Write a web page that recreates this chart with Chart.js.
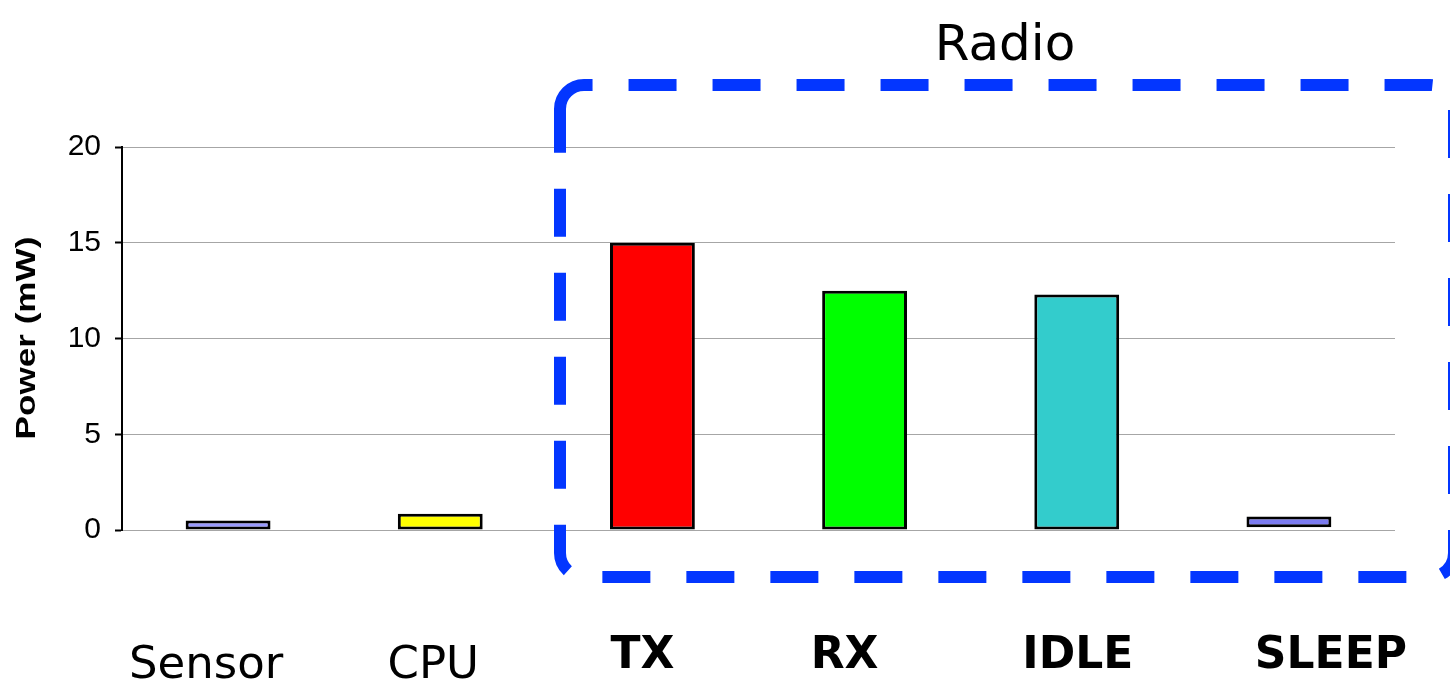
<!DOCTYPE html>
<html>
<head>
<meta charset="utf-8">
<title>Power (mW)</title>
<script src="https://cdn.jsdelivr.net/npm/chart.js@4/dist/chart.umd.min.js"></script>
<style>
  html, body { margin: 0; padding: 0; background: #ffffff; }
  #wrap { width: 1450px; height: 681px; }
</style>
</head>
<body>
<div id="wrap"><canvas id="c" width="1450" height="681"></canvas></div>
<script>
// Component power draw, mW
const categories = ['Sensor', 'CPU', 'TX', 'RX', 'IDLE', 'SLEEP'];
const powerTop   = [0.5, 0.85, 15, 12.5, 12.3, 0.7];
const powerBase  = [0, 0, 0, 0, 0, 0.15];
const barColors  = ['#9999ff', '#ffff00', '#ff0000', '#00ff00', '#33cccc', '#7b7bf0'];
const yTicks     = [0, 5, 10, 15, 20];
const groupLabel = 'Radio';
const radioFrom  = 2; // first radio category

const barData = categories.map((c, i) => [powerBase[i], powerTop[i]]);

// Hand-placed annotations: category labels, group frame, axis title
const annotate = {
  id: 'annotate',
  afterDraw(chart) {
    const { ctx, scales: { x } } = chart;
    ctx.save();

    // dashed rounded frame around the radio states
    const L = 560, T = 85, R = 1454, B = 577, r = 24;
    ctx.beginPath();
    ctx.moveTo(L, T + r + 2);
    ctx.lineTo(L, T + r);
    ctx.arcTo(L, T, L + r, T, r);
    ctx.lineTo(R - r, T);
    ctx.arcTo(R, T, R, T + r, r);
    ctx.lineTo(R, B - r);
    ctx.arcTo(R, B, R - r, B, r);
    ctx.lineTo(L + r, B);
    ctx.arcTo(L, B, L, B - r, r);
    ctx.closePath();
    ctx.setLineDash([48, 36]);
    ctx.lineWidth = 12;
    ctx.strokeStyle = '#0336ff';
    ctx.stroke();
    ctx.setLineDash([]);

    // group title
    ctx.fillStyle = '#000000';
    ctx.textAlign = 'center';
    ctx.textBaseline = 'alphabetic';
    ctx.font = '50px "DejaVu Sans"';
    ctx.fillText(groupLabel, 1005, 60);

    // category labels under the frame
    const shift = [-22, -7, -10, -20, 1, 42];
    categories.forEach((c, i) => {
      const cx = x.getPixelForValue(i) + shift[i];
      if (i >= radioFrom) {
        ctx.font = 'bold 44px "DejaVu Sans"';
        ctx.fillText(c, cx, 668);
      } else {
        ctx.font = '45px "DejaVu Sans"';
        ctx.fillText(c, cx, 678);
      }
    });

    // y-axis title, set tall and narrow
    ctx.translate(28, 338);
    ctx.rotate(-Math.PI / 2);
    ctx.scale(1.3, 1);
    ctx.font = 'bold 27px "Liberation Sans"';
    ctx.textBaseline = 'middle';
    ctx.fillText('Power (mW)', 0, 0);
    ctx.restore();
  }
};

new Chart(document.getElementById('c'), {
  type: 'bar',
  data: {
    labels: categories,
    datasets: [{
      data: barData,
      backgroundColor: barColors,
      borderColor: '#000000',
      borderWidth: 3,
      borderSkipped: false,
      barPercentage: 0.4,
      categoryPercentage: 1.0
    }]
  },
  options: {
    responsive: false,
    animation: false,
    devicePixelRatio: 1,
    layout: { padding: { top: 147, right: 55, bottom: 151, left: 0 } },
    plugins: { legend: { display: false }, tooltip: { enabled: false } },
    scales: {
      x: {
        ticks: { display: false },
        grid: { display: false, drawTicks: false },
        border: { display: false }
      },
      y: {
        min: 0,
        max: 20,
        afterBuildTicks(scale) { scale.ticks = yTicks.map(v => ({ value: v })); },
        afterFit(scale) { scale.width = 122; },
        ticks: {
          color: '#000000',
          padding: 14,
          font: { family: '"Liberation Sans", Arial, sans-serif', size: 30 }
        },
        grid: {
          color: '#a6a6a6',
          lineWidth: 1,
          tickLength: 7,
          tickColor: '#000000',
          tickWidth: 2
        },
        border: { display: true, color: '#000000', width: 2 }
      }
    }
  },
  plugins: [annotate]
});
</script>
</body>
</html>
